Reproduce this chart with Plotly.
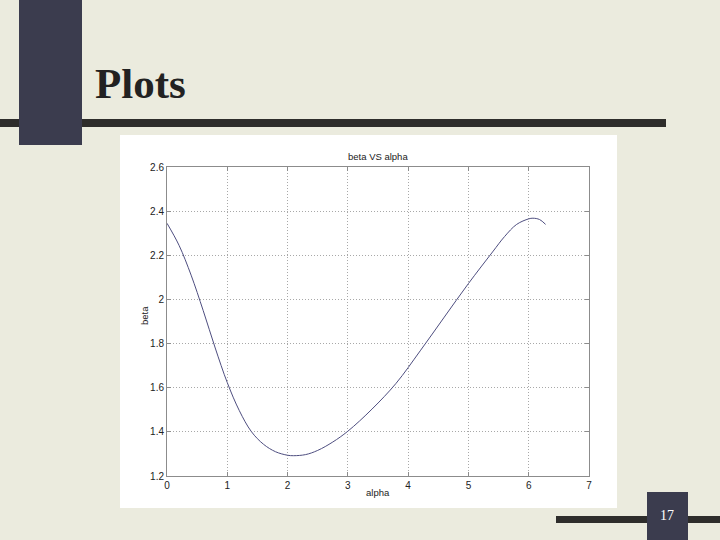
import plotly.graph_objects as go

# Data
alpha = [0, 0.2, 0.4, 0.6, 0.8, 1.0, 1.2, 1.4, 1.6, 1.8, 2.0, 2.1, 2.3, 2.5, 2.75,
         3.0, 3.4, 3.8, 4.2, 4.6, 5.0, 5.4, 5.6, 5.8, 6.0, 6.07, 6.18, 6.28]
beta = [2.345, 2.245, 2.11, 1.95, 1.78, 1.623, 1.496, 1.401, 1.344, 1.31, 1.294, 1.292,
        1.297, 1.316, 1.354, 1.403, 1.503, 1.62, 1.767, 1.92, 2.072, 2.215, 2.285,
        2.34, 2.365, 2.368, 2.362, 2.34]
x_ticks = [0, 1, 2, 3, 4, 5, 6, 7]
y_ticks = [1.2, 1.4, 1.6, 1.8, 2.0, 2.2, 2.4, 2.6]
y_tick_text = ["1.2", "1.4", "1.6", "1.8", "2", "2.2", "2.4", "2.6"]

W, H = 720, 540
L, R, T, B = 167, 589, 167, 476  # plot area in pixels


def px(x):
    return (x - L) / (R - L)


def py(y):
    return (B - y) / (B - T)


fig = go.Figure()
fig.add_trace(go.Scatter(
    x=alpha, y=beta, mode="lines",
    line=dict(color="#4e4e80", width=1, shape="spline", smoothing=1.0),
    showlegend=False, hoverinfo="skip"))

shapes = []
# white picture frame
shapes.append(dict(type="rect", xref="paper", yref="paper", layer="below",
                   x0=px(120), x1=px(617), y0=py(508), y1=py(135),
                   fillcolor="white", line=dict(width=0)))
# left dark vertical bar
shapes.append(dict(type="rect", xref="paper", yref="paper", layer="above",
                   x0=px(19), x1=px(82), y0=py(145), y1=py(0),
                   fillcolor="#3b3c4e", line=dict(width=0)))
# top horizontal bar
shapes.append(dict(type="rect", xref="paper", yref="paper", layer="below",
                   x0=px(0), x1=px(666), y0=py(127), y1=py(119),
                   fillcolor="#2e2d2b", line=dict(width=0)))
# bottom-right horizontal bar
shapes.append(dict(type="rect", xref="paper", yref="paper", layer="above",
                   x0=px(556), x1=px(720), y0=py(523), y1=py(516),
                   fillcolor="#2e2d2b", line=dict(width=0)))
# bottom-right dark square
shapes.append(dict(type="rect", xref="paper", yref="paper", layer="above",
                   x0=px(647), x1=px(688), y0=py(540), y1=py(492),
                   fillcolor="#3b3c4e", line=dict(width=0)))

annotations = [
    dict(text="<b>Plots</b>", xref="paper", yref="paper", x=px(93), y=py(84),
         xanchor="left", yanchor="middle", showarrow=False,
         font=dict(family="Liberation Serif", size=43, color="#222222")),
    dict(text="17", xref="paper", yref="paper", x=px(667), y=py(515),
         xanchor="center", yanchor="middle", showarrow=False,
         font=dict(family="Liberation Serif", size=14, color="white")),
    dict(text="beta VS alpha", xref="paper", yref="paper", x=px(378), y=py(157),
         xanchor="center", yanchor="middle", showarrow=False,
         font=dict(family="Liberation Sans", size=9.5, color="#222222")),
    dict(text="alpha", xref="paper", yref="paper", x=px(378), y=py(492),
         xanchor="center", yanchor="middle", showarrow=False,
         font=dict(family="Liberation Sans", size=9.5, color="#222222")),
    dict(text="beta", xref="paper", yref="paper", x=px(144), y=py(316),
         xanchor="center", yanchor="middle", showarrow=False, textangle=-90,
         font=dict(family="Liberation Sans", size=9.5, color="#222222")),
]

axis_common = dict(
    showgrid=True, gridcolor="#a8a8a8", griddash="1px,2px", gridwidth=1,
    zeroline=False, showline=True, linecolor="#8c8c8c", linewidth=1,
    mirror="ticks", ticks="inside", ticklen=4, tickcolor="#8c8c8c",
    tickfont=dict(family="Liberation Sans", size=10, color="#222222"))

fig.update_layout(
    width=W, height=H,
    margin=dict(l=L, r=W - R, t=T, b=H - B, autoexpand=False),
    paper_bgcolor="#ebebde",
    plot_bgcolor="white",
    shapes=shapes,
    annotations=annotations,
    xaxis=dict(range=[0, 7], tickvals=x_ticks, ticktext=[str(v) for v in x_ticks],
               **axis_common),
    yaxis=dict(range=[1.2, 2.6], tickvals=y_ticks, ticktext=y_tick_text,
               **axis_common),
)

fig.write_html("out.html", config={"displayModeBar": False},
               post_script="document.body.style.margin='0';document.body.style.overflow='hidden';")
